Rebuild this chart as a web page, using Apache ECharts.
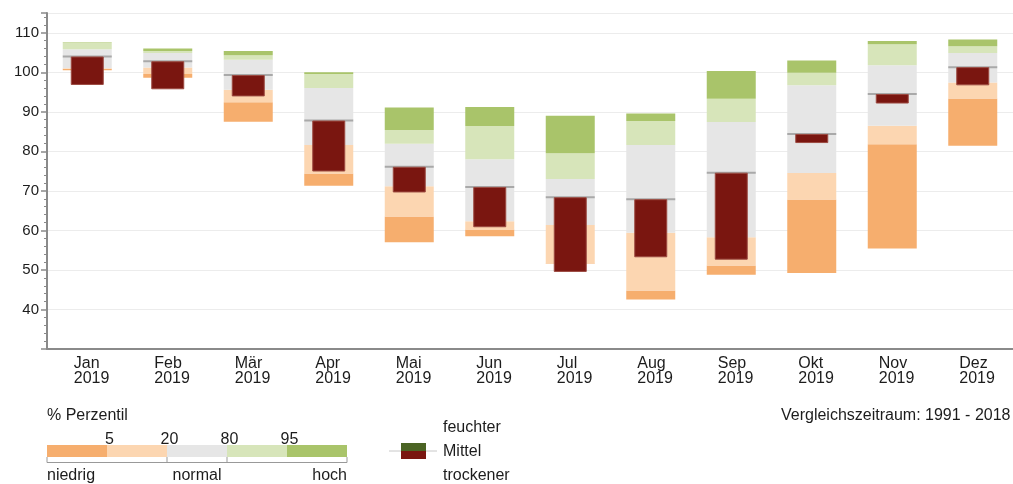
<!DOCTYPE html>
<html><head><meta charset="utf-8">
<script src="https://cdn.jsdelivr.net/npm/echarts@6/dist/echarts.min.js"></script>
<style>html,body{margin:0;padding:0;background:#fff}#c{width:1013px;height:484px}</style>
</head><body><div id="c"></div>
<script>
// ---- data ----
const months  = ['Jan','Feb','Mär','Apr','Mai','Jun','Jul','Aug','Sep','Okt','Nov','Dez'];
const year    = '2019';
const pMin    = [100.5, 98.6, 87.5, 71.3, 57.0, 58.5, 51.5, 42.5, 48.8, 49.2, 55.4, 81.4];
const p05     = [100.9, 99.6, 92.4, 74.4, 63.5, 60.2, 51.6, 44.8, 51.1, 67.8, 81.8, 93.4];
const p20     = [101.0, 101.2, 95.6, 81.6, 71.2, 62.3, 61.4, 59.4, 58.3, 74.5, 86.5, 97.4];
const pMedian = [104.0, 102.8, 99.3, 87.8, 76.1, 71.0, 68.4, 67.9, 74.6, 84.4, 94.5, 101.3];
const p80     = [105.8, 104.9, 103.2, 96.0, 81.9, 78.0, 73.0, 81.6, 87.4, 96.7, 101.8, 104.9];
const p95     = [107.5, 105.4, 104.3, 99.6, 85.4, 86.4, 79.5, 87.7, 93.3, 99.9, 107.1, 106.6];
const pMax    = [107.6, 106.0, 105.4, 100.0, 91.1, 91.2, 89.0, 89.6, 100.3, 103.0, 107.9, 108.3];
const current = [96.8, 95.7, 93.9, 74.9, 69.6, 60.8, 49.5, 53.2, 52.6, 82.1, 92.1, 96.7];
const legendBreaks = ['5','20','80','95'];
const yMin = 30, yMax = 115, yStep = 10;

// ---- styles ----
const C = {dOr:'#F6AE6E', lOr:'#FCD6B1', grey:'#E6E6E6', lGr:'#D7E5BA', dGr:'#A9C46A',
           dry:'#7A1610', wet:'#4B6424', med:'#9a9a9a', axis:'#8a8a8a', text:'#1c1c1c'};
const FONT = 'Liberation Sans, Arial, sans-serif';

const diff = (a,b) => a.map((v,i) => +(v - b[i]).toFixed(2));
const bandSeg = (name, data, color) => ({
  name, type:'bar', stack:'band', xAxisIndex:0, barWidth:49, data,
  itemStyle:{color}, silent:true
});

const chart = echarts.init(document.getElementById('c'), null, {renderer:'canvas'});
const G = [];
const LX = 47, SEG = 60, LY = 445, LH = 12;
[C.dOr, C.lOr, C.grey, C.lGr, C.dGr].forEach((col,i) => {
  G.push({type:'rect', shape:{x:LX+SEG*i, y:LY, width:SEG, height:LH}, style:{fill:col}});
});
legendBreaks.forEach((t,i) => {
  G.push({type:'text', x:LX+SEG*(i+1)+2.5, y:440, style:{text:t, font:'16px '+FONT, fill:C.text, align:'center', verticalAlign:'middle'}});
});
G.push({type:'polyline', shape:{points:[[LX,457],[LX,462.5],[LX+300,462.5],[LX+300,457]]}, style:{stroke:'#999', lineWidth:1, fill:null}});
G.push({type:'line', shape:{x1:LX+120, y1:457, x2:LX+120, y2:462.5}, style:{stroke:'#999', lineWidth:1}});
G.push({type:'line', shape:{x1:LX+180, y1:457, x2:LX+180, y2:462.5}, style:{stroke:'#999', lineWidth:1}});
G.push({type:'text', x:LX, y:416, style:{text:'% Perzentil', font:'16px '+FONT, fill:C.text, align:'left', verticalAlign:'middle'}});
G.push({type:'text', x:LX, y:476, style:{text:'niedrig', font:'16px '+FONT, fill:C.text, align:'left', verticalAlign:'middle'}});
G.push({type:'text', x:197, y:476, style:{text:'normal', font:'16px '+FONT, fill:C.text, align:'center', verticalAlign:'middle'}});
G.push({type:'text', x:LX+300, y:476, style:{text:'hoch', font:'16px '+FONT, fill:C.text, align:'right', verticalAlign:'middle'}});
G.push({type:'line', shape:{x1:389, y1:451, x2:437, y2:451}, style:{stroke:'#c8c8c8', lineWidth:1}});
G.push({type:'rect', shape:{x:401, y:443, width:25, height:8}, style:{fill:C.wet}});
G.push({type:'rect', shape:{x:401, y:451, width:25, height:8}, style:{fill:C.dry}});
G.push({type:'text', x:443, y:428, style:{text:'feuchter', font:'16px '+FONT, fill:C.text, align:'left', verticalAlign:'middle'}});
G.push({type:'text', x:443, y:452, style:{text:'Mittel', font:'16px '+FONT, fill:C.text, align:'left', verticalAlign:'middle'}});
G.push({type:'text', x:443, y:476, style:{text:'trockener', font:'16px '+FONT, fill:C.text, align:'left', verticalAlign:'middle'}});
G.push({type:'text', x:781, y:416, style:{text:'Vergleichszeitraum: 1991 - 2018', font:'16px '+FONT, fill:C.text, align:'left', verticalAlign:'middle'}});

const catAxis = (show) => ({
  type:'category', data:months, show, position:'bottom',
  axisLine:{show:true, lineStyle:{color:C.axis, width:2}},
  axisTick:{show:false},
  axisLabel:{
    interval:0, margin:7, padding:[0,0,0,9],
    formatter: m => '{a|' + m + '}\n{a|' + year + '}',
    rich:{a:{width:36, align:'left', fontSize:16, lineHeight:15, color:C.text, fontFamily:FONT}}
  },
  splitLine:{show:false}
});

chart.setOption({
  animation:false,
  backgroundColor:'#fff',
  grid:{left:47, right:0, top:13, bottom:135, containLabel:false},
  xAxis:[catAxis(true), catAxis(false)],
  yAxis:{
    type:'value', min:yMin, max:yMax, interval:yStep,
    axisLine:{show:true, lineStyle:{color:C.axis, width:2}},
    axisTick:{show:true, length:6, lineStyle:{color:C.axis, width:1.5}},
    minorTick:{show:true, splitNumber:5, length:3, lineStyle:{color:C.axis, width:1}},
    splitLine:{show:true, lineStyle:{color:'#ececec', width:1}},
    axisLabel:{fontSize:15, color:C.text, fontFamily:FONT, margin:8,
      formatter: v => (v === yMin || v === yMax) ? '' : String(v)}
  },
  graphic:G,
  series:[
    bandSeg('base', pMin, 'rgba(0,0,0,0)'),
    bandSeg('0-5', diff(p05, pMin), C.dOr),
    bandSeg('5-20', diff(p20, p05), C.lOr),
    bandSeg('20-80', diff(p80, p20), C.grey),
    bandSeg('80-95', diff(p95, p80), C.lGr),
    bandSeg('95-100', diff(pMax, p95), C.dGr),
    {name:'Mittel', type:'scatter', xAxisIndex:0, data:pMedian, symbol:'rect', symbolSize:[49,2],
     itemStyle:{color:C.med}, silent:true, z:3},
    {name:'curBase', type:'bar', stack:'cur', xAxisIndex:1, barWidth:33,
     data: current.map((v,i) => Math.min(v, pMedian[i])), itemStyle:{color:'rgba(0,0,0,0)'}, silent:true, z:4},
    {name:'2019', type:'bar', stack:'cur', xAxisIndex:1, barWidth:33, z:4, silent:true,
     data: current.map((v,i) => ({value:+Math.abs(pMedian[i]-v).toFixed(2),
       itemStyle:{color: v < pMedian[i] ? C.dry : C.wet, borderColor: v < pMedian[i] ? '#9c4a40' : '#6b8040', borderWidth:1}}))}
  ]
});
</script></body></html>
